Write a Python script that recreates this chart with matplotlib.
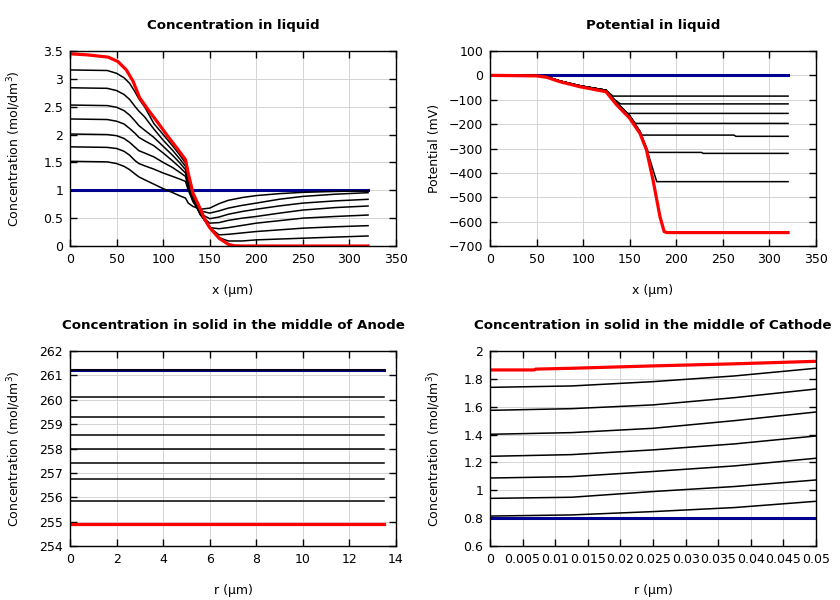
import numpy as np
import matplotlib.pyplot as plt
from matplotlib.ticker import FuncFormatter

# ---- Concentration in liquid (x in um, c in mol/dm3) ----
liq_x0 = [0, 320]
liq_c0 = [1.0, 1.0]

liq_red_x = [0, 19, 41, 51.5, 60.5, 67.6, 74.8, 83.7, 94.5, 105, 116, 124, 127, 132, 140, 145, 150, 160, 170, 176, 183, 320]
liq_red_c = [3.45, 3.43, 3.39, 3.31, 3.16, 2.96, 2.66, 2.45, 2.21, 1.97, 1.73, 1.55, 1.30, 0.95, 0.66, 0.47, 0.33, 0.14, 0.03, 0.005, 0.0, 0.0]

liq_x = [0, 40, 50, 58, 64, 70, 74, 80, 90, 100, 110, 118, 124, 127, 132, 140, 150, 160, 170, 185, 200, 225, 250, 285, 320]
liq_c = [
    [1.52, 1.51, 1.48, 1.43, 1.37, 1.29, 1.24, 1.19, 1.11, 1.03, 0.96, 0.90, 0.86, 0.77, 0.71, 0.66, 0.68, 0.76, 0.82, 0.87, 0.905, 0.94, 0.963, 0.98, 0.99],
    [1.78, 1.77, 1.75, 1.70, 1.63, 1.53, 1.48, 1.44, 1.38, 1.31, 1.25, 1.20, 1.16, 1.00, 0.80, 0.63, 0.59, 0.63, 0.68, 0.73, 0.77, 0.84, 0.89, 0.93, 0.957],
    [2.01, 2.00, 1.98, 1.93, 1.86, 1.77, 1.71, 1.67, 1.60, 1.50, 1.41, 1.32, 1.25, 1.05, 0.80, 0.58, 0.49, 0.52, 0.57, 0.62, 0.66, 0.72, 0.77, 0.81, 0.838],
    [2.28, 2.27, 2.24, 2.19, 2.11, 2.02, 1.95, 1.89, 1.80, 1.67, 1.53, 1.41, 1.31, 1.10, 0.83, 0.56, 0.41, 0.42, 0.46, 0.50, 0.53, 0.59, 0.645, 0.69, 0.718],
    [2.53, 2.52, 2.49, 2.43, 2.35, 2.24, 2.16, 2.08, 1.95, 1.79, 1.63, 1.49, 1.37, 1.15, 0.86, 0.56, 0.33, 0.31, 0.33, 0.37, 0.41, 0.455, 0.50, 0.53, 0.556],
    [2.84, 2.83, 2.79, 2.72, 2.63, 2.50, 2.42, 2.32, 2.10, 1.90, 1.72, 1.56, 1.43, 1.20, 0.90, 0.58, 0.33, 0.20, 0.21, 0.235, 0.26, 0.29, 0.32, 0.345, 0.365],
    [3.16, 3.15, 3.10, 3.02, 2.92, 2.76, 2.64, 2.50, 2.20, 2.00, 1.80, 1.63, 1.49, 1.25, 0.93, 0.60, 0.33, 0.15, 0.09, 0.09, 0.11, 0.125, 0.14, 0.16, 0.18],
]

# ---- Potential in liquid (mV) ----
pot_x0 = [0, 320]
pot_v0 = [0, 0]

pot_red_x = [0, 50, 61, 75, 97, 124.5, 136, 150, 161, 168, 175, 182.5, 187, 190, 320]
pot_red_v = [0, -2, -8, -26, -47, -67, -121, -176, -238, -306, -429, -580, -641, -645, -645]

pot_curves = [
    ([0, 50, 61, 75, 97, 124.5, 132, 320], [0, -1, -6, -23, -43, -61, -85, -85]),
    ([0, 50, 61, 75, 97, 124.5, 132, 140, 320], [0, -1, -6, -23, -43, -61, -95, -117, -117]),
    ([0, 50, 61, 75, 97, 124.5, 136, 148, 320], [0, -1, -6, -23, -43, -61, -112, -156, -156]),
    ([0, 50, 61, 75, 97, 124.5, 136, 150, 156, 320], [0, -1, -6, -23, -43, -61, -112, -166, -197, -197]),
    ([0, 50, 61, 75, 97, 124.5, 136, 150, 163, 262, 264, 320], [0, -1, -6, -23, -43, -61, -112, -166, -245, -245, -250, -250]),
    ([0, 50, 61, 75, 97, 124.5, 136, 150, 161, 170, 227, 229, 320], [0, -1, -6, -23, -43, -61, -112, -166, -230, -316, -316, -320, -320]),
    ([0, 50, 61, 75, 97, 124.5, 136, 150, 161, 168, 179, 320], [0, -1, -6, -23, -43, -61, -112, -166, -230, -300, -436, -436]),
]

# ---- Solid concentration, middle of anode ----
an_r = [0, 13.5]
an_init = 261.21
an_final = 254.90
an_levels = [260.13, 259.31, 258.57, 257.97, 257.39, 256.74, 255.86]

# ---- Solid concentration, middle of cathode ----
ca_r = [0, 0.0125, 0.025, 0.0375, 0.05]
ca_init = 0.80
ca_red_r = [0, 0.0068, 0.007, 0.0125, 0.025, 0.0375, 0.05]
ca_red_c = [1.864, 1.864, 1.870, 1.876, 1.893, 1.908, 1.926]
ca_curves = [
    [1.739, 1.749, 1.780, 1.821, 1.876],
    [1.574, 1.586, 1.613, 1.665, 1.727],
    [1.402, 1.414, 1.445, 1.500, 1.562],
    [1.244, 1.256, 1.290, 1.333, 1.390],
    [1.088, 1.098, 1.135, 1.175, 1.230],
    [0.942, 0.950, 0.991, 1.027, 1.074],
    [0.815, 0.823, 0.847, 0.876, 0.921],
]

navy = '#000090'
plt.rcParams['font.family'] = 'DejaVu Sans'
plt.rcParams['font.size'] = 9

fig = plt.figure(figsize=(8.4, 6), dpi=100)
W, H = 840, 600


def make_ax(left, top, title, xlabel, ylabel):
    ax = fig.add_axes([left / W, 1 - (top + 195) / H, 326 / W, 195 / H])
    ax.tick_params(direction='in', top=True, right=True, length=5, width=1, pad=5)
    ax.grid(True, color='#d4d4d4', lw=0.7)
    ax.set_axisbelow(True)
    for s in ax.spines.values():
        s.set_linewidth(1.0)
    ax.set_title(title, fontweight='bold', fontsize=9.6, pad=16)
    ax.set_xlabel(xlabel)
    ax.set_ylabel(ylabel)
    ax.xaxis.set_label_coords(0.5, -0.195)
    ax.yaxis.label.set_va('center')
    ax.yaxis.set_label_coords(-0.17, 0.5)
    return ax


# top-left
ax = make_ax(70, 51, 'Concentration in liquid', 'x (µm)', 'Concentration (mol/dm$^3$)')
ax.plot(liq_x0, liq_c0, color=navy, lw=2.2)
for c in liq_c:
    ax.plot(liq_x, c, color='black', lw=1.1)
ax.plot(liq_red_x, liq_red_c, color='red', lw=2.3)
ax.set_xlim(0, 350)
ax.set_ylim(0, 3.5)
ax.set_xticks(np.arange(0, 351, 50))
ax.set_yticks(np.arange(0, 3.51, 0.5))
ax.yaxis.set_major_formatter(FuncFormatter(lambda v, p: '%g' % v))

# top-right
ax = make_ax(490, 51, 'Potential in liquid', 'x (µm)', 'Potential (mV)')
ax.plot(pot_x0, pot_v0, color=navy, lw=2.2)
for px, pv in pot_curves:
    ax.plot(px, pv, color='black', lw=1.1)
ax.plot(pot_red_x, pot_red_v, color='red', lw=2.3)
ax.set_xlim(0, 350)
ax.set_ylim(-700, 100)
ax.set_xticks(np.arange(0, 351, 50))
ax.set_yticks(np.arange(-700, 101, 100))

# bottom-left
ax = make_ax(70, 351, 'Concentration in solid in the middle of Anode', 'r (µm)', 'Concentration (mol/dm$^3$)')
ax.plot(an_r, [an_init] * 2, color=navy, lw=2.2)
ax.plot(an_r, [an_init] * 2, color='black', lw=1.2)
for lv in an_levels:
    ax.plot(an_r, [lv] * 2, color='black', lw=1.1)
ax.plot(an_r, [an_final] * 2, color='red', lw=2.3)
ax.set_xlim(0, 14)
ax.set_ylim(254, 262)
ax.set_xticks(np.arange(0, 14.1, 2))
ax.set_yticks(np.arange(254, 262.1, 1))

# bottom-right
ax = make_ax(490, 351, 'Concentration in solid in the middle of Cathode', 'r (µm)', 'Concentration (mol/dm$^3$)')
ax.plot([0, 0.05], [ca_init] * 2, color=navy, lw=2.2)
for c in ca_curves:
    ax.plot(ca_r, c, color='black', lw=1.1)
ax.plot(ca_red_r, ca_red_c, color='red', lw=2.3)
ax.set_xlim(0, 0.05)
ax.set_ylim(0.6, 2)
ax.set_xticks(np.linspace(0, 0.05, 11))
ax.set_yticks(np.arange(0.6, 2.01, 0.2))
ax.xaxis.set_major_formatter(FuncFormatter(lambda v, p: '%g' % round(v, 4)))
ax.yaxis.set_major_formatter(FuncFormatter(lambda v, p: '%g' % round(v, 2)))

fig.savefig('out.png', dpi=100)
